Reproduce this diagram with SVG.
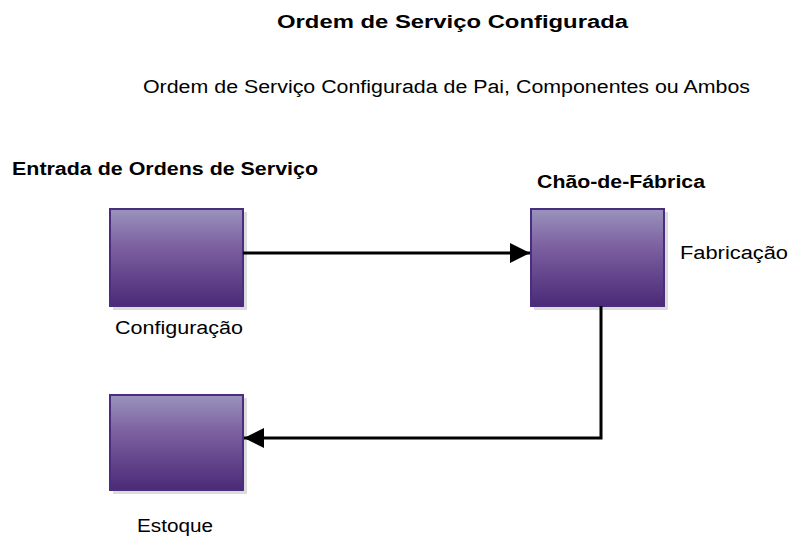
<svg xmlns="http://www.w3.org/2000/svg" width="788" height="537" viewBox="0 0 788 537">
<defs>
<linearGradient id="g" x1="0" y1="0" x2="0" y2="1">
<stop offset="0" stop-color="#9a93bd"/>
<stop offset="0.4" stop-color="#7b5f9f"/>
<stop offset="1" stop-color="#4a2a77"/>
</linearGradient>
<marker id="ah" markerWidth="20" markerHeight="20" refX="20" refY="10" orient="auto" markerUnits="userSpaceOnUse">
<path d="M0,0 L20,10 L0,20 Z" fill="#000"/>
</marker>
</defs>
<style>
.box{fill:url(#g);stroke:#4b2d7f;stroke-width:2}
.sh{fill:#dcdcdc}
.t{font-family:"Liberation Sans",Arial,sans-serif;font-size:18px;fill:#000}
.b{font-weight:bold}
.c{fill:none;stroke:#000;stroke-width:3}
</style>
<rect width="788" height="537" fill="#fff"/>
<text class="t b" x="277" y="28" textLength="351" lengthAdjust="spacingAndGlyphs">Ordem de Serviço Configurada</text>
<text class="t" x="143" y="93" textLength="607" lengthAdjust="spacingAndGlyphs">Ordem de Serviço Configurada de Pai, Componentes ou Ambos</text>
<text class="t b" x="12" y="175" textLength="306" lengthAdjust="spacingAndGlyphs">Entrada de Ordens de Serviço</text>
<text class="t b" x="537" y="188" textLength="168" lengthAdjust="spacingAndGlyphs">Chão-de-Fábrica</text>
<g id="configuracao">
<rect class="sh" x="113" y="212" width="134" height="98"/>
<rect class="box" x="110" y="209" width="133" height="97"/>
<text class="t" x="115" y="334" textLength="128" lengthAdjust="spacingAndGlyphs">Configuração</text>
</g>
<g id="fabricacao">
<rect class="sh" x="534" y="212" width="134" height="98"/>
<rect class="box" x="531" y="209" width="133" height="97"/>
<text class="t" x="680" y="259" textLength="108" lengthAdjust="spacingAndGlyphs">Fabricação</text>
</g>
<g id="estoque">
<rect class="sh" x="113" y="398" width="134" height="96"/>
<rect class="box" x="110" y="395" width="133" height="95"/>
<text class="t" x="137" y="532" textLength="76" lengthAdjust="spacingAndGlyphs">Estoque</text>
</g>
<g id="connectors">
<path class="c" d="M243,253 L530,253" marker-end="url(#ah)"/>
<path class="c" d="M601,306 L601,438 L244,438" marker-end="url(#ah)"/>
</g>
</svg>
